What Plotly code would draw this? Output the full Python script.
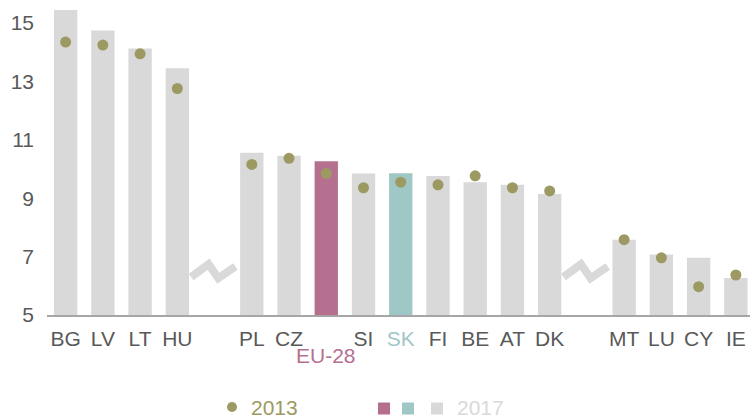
import plotly.graph_objects as go

# ---------------- data ----------------
categories = ["BG", "LV", "LT", "HU", "gap1", "PL", "CZ", "EU-28", "SI", "SK",
              "FI", "BE", "AT", "DK", "gap2", "MT", "LU", "CY", "IE"]
tick_labels = ["BG", "LV", "LT", "HU", "", "PL", "CZ", "", "SI",
               '<span style="color:#9fc7c6">SK</span>',
               "FI", "BE", "AT", "DK", "", "MT", "LU", "CY", "IE"]
values_2017 = [15.5, 14.75, 14.13, 13.45, None, 10.56, 10.46, 10.27, 9.85, 9.86,
               9.76, 9.55, 9.46, 9.15, None, 7.58, 7.07, 6.96, 6.27]
values_2013 = [14.35, 14.25, 13.95, 12.76, None, 10.16, 10.37, 9.85, 9.36, 9.55,
               9.46, 9.77, 9.36, 9.25, None, 7.58, 6.96, 5.97, 6.37]
y_ticks = [5, 7, 9, 11, 13, 15]
series_names = ["2013", "2017"]

# ---------------- styles ----------------
GREY = "#d9d9d9"
PINK = "#b5708f"
TEAL = "#9fc7c6"
OLIVE = "#9c9a62"
TEXT = "#595959"
FONT = "Liberation Sans, Arial, sans-serif"
FS = 21

W, H = 750, 418
ML, MR, MT_, MB = 47, 0, 10, 103
PW, PH = W - ML - MR, H - MT_ - MB


def px_x(p):  # page pixel -> paper coordinate
    return (p - ML) / PW


def px_y(p):
    return (H - MB - p) / PH


bar_colors = [PINK if c == "EU-28" else TEAL if c == "SK" else GREY for c in categories]

fig = go.Figure()
fig.add_trace(go.Bar(x=categories, y=values_2017, marker_color=bar_colors,
                     marker_line_width=0, width=0.627, showlegend=False,
                     name=series_names[1]))
fig.add_trace(go.Scatter(x=categories, y=values_2013, mode="markers",
                         marker=dict(color=OLIVE, size=11), showlegend=False,
                         name=series_names[0]))

# zig-zag break marks in the gap slots
zig_dx = [-0.63, -0.16, 0.10, 0.56]
zig_y = [6.30, 6.74, 6.26, 6.66]
shapes = []
for g in ("gap1", "gap2"):
    gi = categories.index(g)
    path = "M " + " L ".join(f"{gi + dx},{yy}" for dx, yy in zip(zig_dx, zig_y))
    shapes.append(dict(type="path", xref="x", yref="y", path=path,
                       line=dict(color=GREY, width=8), layer="above"))

# custom legend
shapes.append(dict(type="circle", xref="paper", yref="paper",
                   x0=px_x(227), x1=px_x(237), y0=px_y(412), y1=px_y(402),
                   fillcolor=OLIVE, line_width=0))
for x0, col in ((378, PINK), (402, TEAL), (431, GREY)):
    shapes.append(dict(type="rect", xref="paper", yref="paper",
                       x0=px_x(x0), x1=px_x(x0 + 12), y0=px_y(414.5), y1=px_y(402.5),
                       fillcolor=col, line_width=0))

annotations = [
    dict(text="EU-28", x=categories.index("EU-28"), xref="x", y=px_y(355), yref="paper",
         xanchor="center", yanchor="middle", showarrow=False,
         font=dict(family=FONT, size=FS, color=PINK)),
    dict(text=series_names[0], x=px_x(249), xref="paper", y=px_y(407), yref="paper",
         xanchor="left", yanchor="middle", showarrow=False,
         font=dict(family=FONT, size=FS, color=OLIVE)),
    dict(text=series_names[1], x=px_x(455), xref="paper", y=px_y(407), yref="paper",
         xanchor="left", yanchor="middle", showarrow=False,
         font=dict(family=FONT, size=FS, color=GREY)),
]

fig.update_layout(
    width=W, height=H,
    margin=dict(l=ML, r=MR, t=MT_, b=MB, pad=0),
    paper_bgcolor="white", plot_bgcolor="white",
    bargap=0.373,
    font=dict(family=FONT, size=FS, color=TEXT),
    shapes=shapes, annotations=annotations,
    xaxis=dict(type="category", categoryorder="array", categoryarray=categories,
               range=[-0.5, 18.38], tickmode="array", tickvals=categories,
               ticktext=tick_labels, showline=True, linecolor="#a6a6a6",
               linewidth=2, ticks="", showgrid=False, zeroline=False,
               tickfont=dict(family=FONT, size=FS, color=TEXT),
               ticklabelstandoff=4, fixedrange=True),
    yaxis=dict(range=[5, 15.45], tickvals=y_ticks, showgrid=False, zeroline=False,
               showline=False, ticks="", ticklabelstandoff=12,
               tickfont=dict(family=FONT, size=FS, color=TEXT), fixedrange=True),
)

# remove the browser's default page margin so the figure fills the window exactly
fig.write_html("out.html",
               config={"displayModeBar": False, "staticPlot": True},
               post_script="document.body.style.margin='0';"
                           "document.body.style.overflow='hidden';")
